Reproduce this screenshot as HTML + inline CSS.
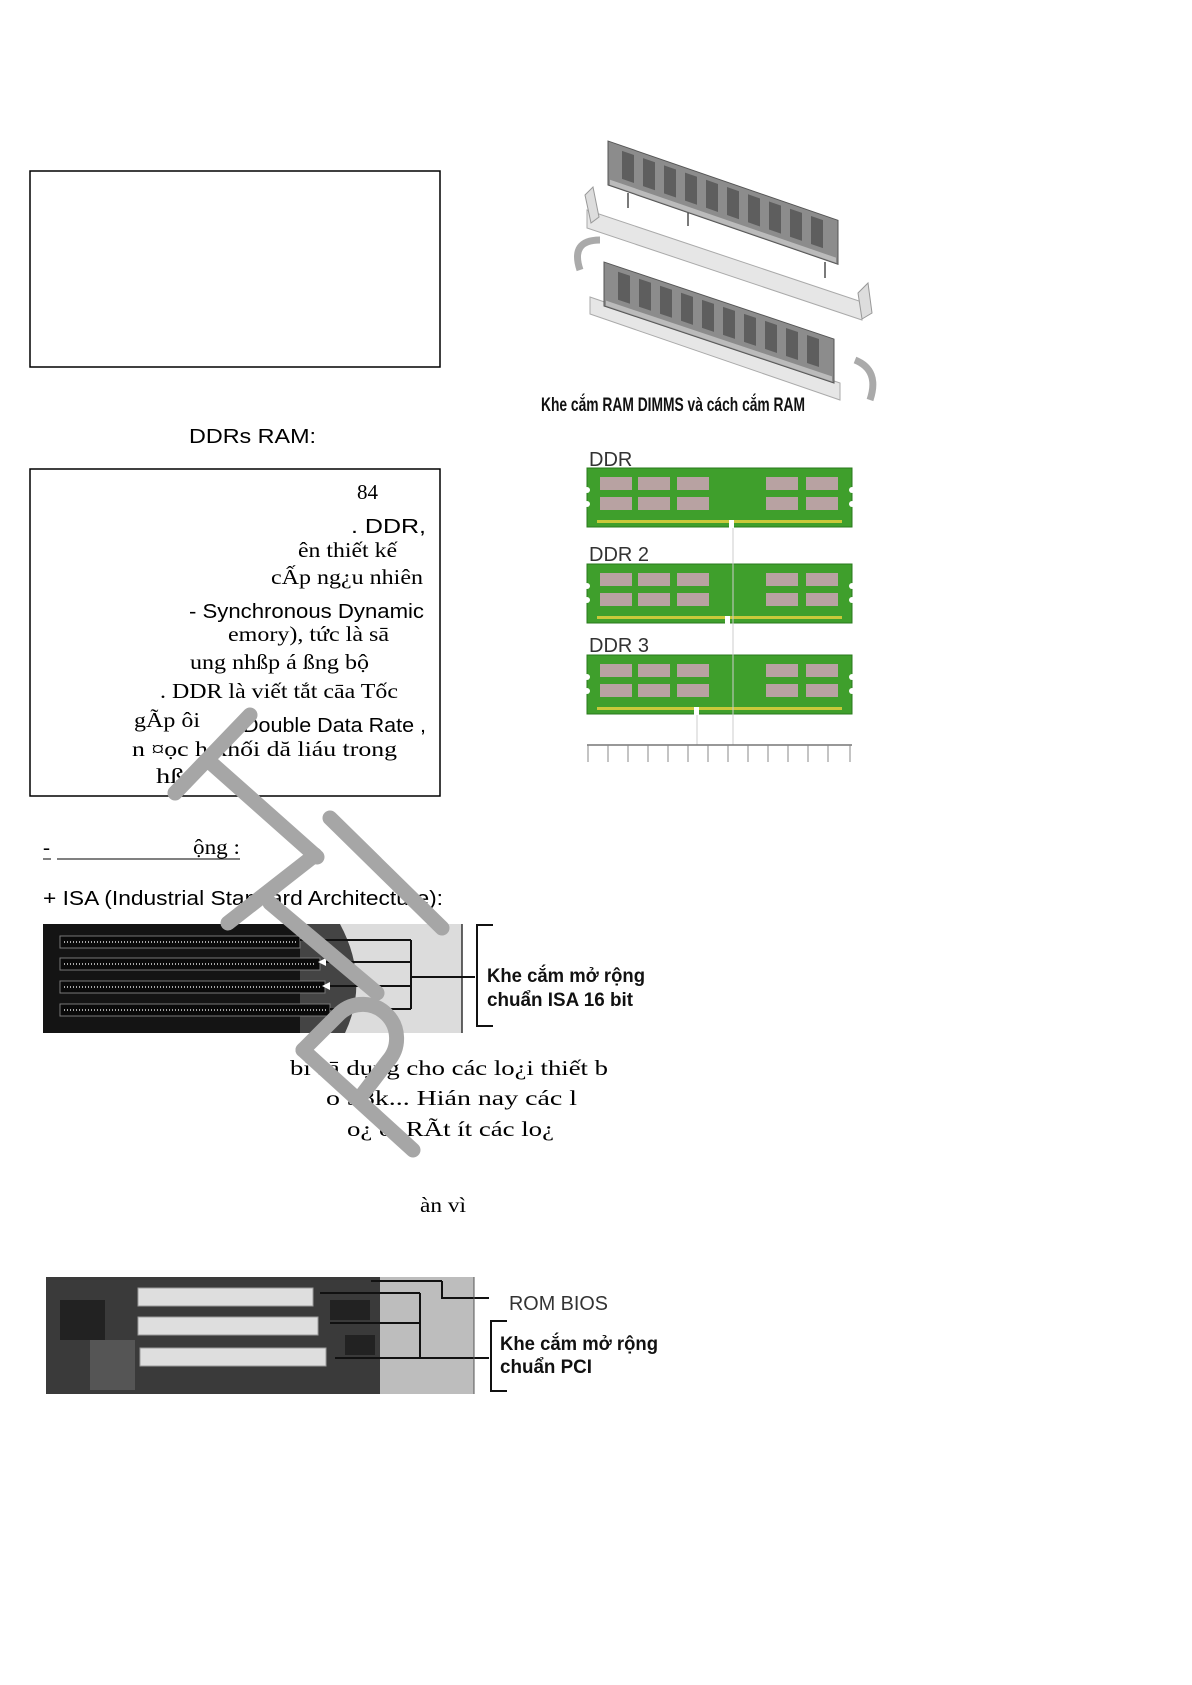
<!DOCTYPE html>
<html><head><meta charset="utf-8"><style>
html,body{margin:0;padding:0;background:#fff}
svg{display:block}
.s{font-family:"Liberation Serif",serif;font-size:21px;fill:#000}
.a{font-family:"Liberation Sans",sans-serif;font-size:20px;fill:#000}
.b{font-family:"Liberation Sans",sans-serif;font-weight:bold;font-size:19px;fill:#111}
</style></head><body>
<svg width="1192" height="1685" viewBox="0 0 1192 1685" xmlns="http://www.w3.org/2000/svg">
<defs>
<g id="mod">
 <rect x="0" y="0" width="265" height="59" fill="#3f9f2c" stroke="#2a7a1c" stroke-width="1"/>
 <g fill="#b8a2a2">
  <rect x="13" y="9" width="32" height="13"/><rect x="51" y="9" width="32" height="13"/><rect x="90" y="9" width="32" height="13"/>
  <rect x="179" y="9" width="32" height="13"/><rect x="219" y="9" width="32" height="13"/>
  <rect x="13" y="29" width="32" height="13"/><rect x="51" y="29" width="32" height="13"/><rect x="90" y="29" width="32" height="13"/>
  <rect x="179" y="29" width="32" height="13"/><rect x="219" y="29" width="32" height="13"/>
 </g>
 <rect x="10" y="52" width="245" height="3" fill="#c9c93a"/>
 <circle cx="0" cy="22" r="3" fill="#fff"/><circle cx="0" cy="36" r="3" fill="#fff"/>
 <circle cx="265" cy="22" r="3" fill="#fff"/><circle cx="265" cy="36" r="3" fill="#fff"/>
</g>
<g id="stick">
 <rect x="0" y="0" width="230" height="44" fill="#8c8c8c" stroke="#555" stroke-width="1"/>
 <g fill="#5e5e5e">
  <rect x="14" y="5" width="12" height="28"/><rect x="35" y="5" width="12" height="28"/><rect x="56" y="5" width="12" height="28"/>
  <rect x="77" y="5" width="12" height="28"/><rect x="98" y="5" width="12" height="28"/><rect x="119" y="5" width="12" height="28"/>
  <rect x="140" y="5" width="12" height="28"/><rect x="161" y="5" width="12" height="28"/><rect x="182" y="5" width="12" height="28"/><rect x="203" y="5" width="12" height="28"/>
 </g>
 <rect x="2" y="38" width="226" height="5" fill="#bbb"/>
</g>
</defs>

<!-- boxes -->
<rect x="30" y="171" width="410" height="196" fill="none" stroke="#000" stroke-width="1.5"/>
<text class="a" x="189" y="443" textLength="127" lengthAdjust="spacingAndGlyphs" font-size="21">DDRs RAM:</text>
<rect x="30" y="469" width="410" height="327" fill="none" stroke="#000" stroke-width="1.5"/>

<text class="s" x="357" y="499">84</text>
<text class="a" x="351" y="533" textLength="75" lengthAdjust="spacingAndGlyphs">. DDR,</text>
<text class="s" x="298" y="557" textLength="99" lengthAdjust="spacingAndGlyphs">ên thiết kế</text>
<text class="s" x="271" y="584" textLength="152" lengthAdjust="spacingAndGlyphs">cẤp ng¿u nhiên</text>
<text class="a" x="189" y="618" textLength="235" lengthAdjust="spacingAndGlyphs">- Synchronous Dynamic</text>
<text class="s" x="228" y="641" textLength="161" lengthAdjust="spacingAndGlyphs">emory), tức là sā</text>
<text class="s" x="190" y="669" textLength="179" lengthAdjust="spacingAndGlyphs">ung nhßp á ßng bộ</text>
<text class="s" x="160" y="698" textLength="238" lengthAdjust="spacingAndGlyphs">. DDR là viết tắt cāa Tốc</text>
<text class="s" x="134" y="727" textLength="66" lengthAdjust="spacingAndGlyphs">gÃp ôi</text>
<text class="a" x="243" y="732" textLength="183" lengthAdjust="spacingAndGlyphs">Double Data Rate ,</text>
<text class="s" x="132" y="756" textLength="265" lengthAdjust="spacingAndGlyphs">n ¤ọc h  khối dă liáu trong</text>
<text class="s" x="156" y="783" textLength="38" lengthAdjust="spacingAndGlyphs">hß¡</text>

<text class="s" x="43" y="854">-</text>
<line x1="43" y1="859" x2="51" y2="859" stroke="#000" stroke-width="1"/>
<line x1="57" y1="859" x2="240" y2="859" stroke="#000" stroke-width="1"/>
<text class="s" x="193" y="854" textLength="47" lengthAdjust="spacingAndGlyphs">ộng :</text>
<text class="a" x="43" y="905" textLength="400" lengthAdjust="spacingAndGlyphs">+ ISA (Industrial Standard Architecture):</text>

<!-- ISA photo -->
<rect x="43" y="924" width="419" height="109" fill="#dcdcdc"/>
<rect x="43" y="924" width="285" height="109" fill="#141414"/>
<path d="M300 924 L340 924 Q370 980 345 1033 L300 1033 Z" fill="#444"/>
<g fill="#0a0a0a" stroke="#777" stroke-width="1">
 <rect x="60" y="936" width="240" height="12"/><rect x="60" y="958" width="260" height="12"/><rect x="60" y="981" width="265" height="12"/><rect x="60" y="1004" width="270" height="12"/>
</g>
<g stroke="#aaa" stroke-width="2" stroke-dasharray="1 2">
 <line x1="64" y1="942" x2="296" y2="942"/><line x1="64" y1="964" x2="316" y2="964"/><line x1="64" y1="987" x2="321" y2="987"/><line x1="64" y1="1010" x2="326" y2="1010"/>
</g>
<line x1="462" y1="924" x2="462" y2="1033" stroke="#333" stroke-width="1.5"/>
<g stroke="#111" stroke-width="2" fill="none">
 <line x1="300" y1="940" x2="411" y2="940"/><line x1="320" y1="962" x2="411" y2="962"/><line x1="325" y1="986" x2="411" y2="986"/><line x1="330" y1="1009" x2="411" y2="1009"/>
 <line x1="411" y1="940" x2="411" y2="1009"/><line x1="411" y1="977" x2="475" y2="977"/>
 <path d="M493 925 H477 V1026 H493"/>
</g>
<g fill="#fff"><path d="M318 962 l8 -4 v8z"/><path d="M322 986 l8 -4 v8z"/></g>
<text class="b" x="487" y="982" textLength="158" lengthAdjust="spacingAndGlyphs">Khe cắm mở rộng</text>
<text class="b" x="487" y="1006" textLength="146" lengthAdjust="spacingAndGlyphs">chuẩn ISA 16 bit</text>

<text class="s" x="290" y="1075" textLength="318" lengthAdjust="spacingAndGlyphs">bi  sā dụng cho các lo¿i thiết b</text>
<text class="s" x="326" y="1105" textLength="251" lengthAdjust="spacingAndGlyphs">o  38k... Hián nay các l</text>
<text class="s" x="347" y="1136" textLength="207" lengthAdjust="spacingAndGlyphs">o¿  ỏ. RÃt ít các lo¿</text>
<text class="s" x="420" y="1212" textLength="46" lengthAdjust="spacingAndGlyphs">àn vì</text>

<!-- PCI photo -->
<rect x="46" y="1277" width="428" height="117" fill="#3a3a3a"/>
<rect x="380" y="1277" width="94" height="117" fill="#bdbdbd"/>
<rect x="60" y="1300" width="45" height="40" fill="#222"/>
<rect x="90" y="1340" width="45" height="50" fill="#555"/>
<g fill="#dedede" stroke="#999" stroke-width="1">
 <rect x="138" y="1288" width="175" height="18"/><rect x="138" y="1317" width="180" height="18"/><rect x="140" y="1348" width="186" height="18"/>
</g>
<rect x="330" y="1300" width="40" height="20" fill="#222"/><rect x="345" y="1335" width="30" height="20" fill="#222"/>
<g stroke="#111" stroke-width="2" fill="none">
 <line x1="371" y1="1281" x2="442" y2="1281"/><path d="M442 1281 V1298 H489"/>
 <line x1="320" y1="1293" x2="420" y2="1293"/><line x1="330" y1="1323" x2="420" y2="1323"/><line x1="335" y1="1358" x2="420" y2="1358"/>
 <line x1="420" y1="1293" x2="420" y2="1358"/><line x1="420" y1="1358" x2="489" y2="1358"/>
 <path d="M507 1321 H491 V1391 H507"/>
</g>
<line x1="474" y1="1277" x2="474" y2="1394" stroke="#555" stroke-width="1"/>
<text class="a" x="509" y="1310" textLength="99" lengthAdjust="spacingAndGlyphs" fill="#333" style="fill:#333">ROM BIOS</text>
<text class="b" x="500" y="1350" textLength="158" lengthAdjust="spacingAndGlyphs">Khe cắm mở rộng</text>
<text class="b" x="500" y="1373" textLength="92" lengthAdjust="spacingAndGlyphs">chuẩn PCI</text>

<!-- DIMM picture -->
<path d="M587 210 L862 302 L862 320 L587 228 Z" fill="#e6e6e6" stroke="#aaa" stroke-width="1"/>
<path d="M585 195 l8 -8 l6 30 l-8 6z M858 293 l10 -10 l4 30 l-10 6z" fill="#ddd" stroke="#999"/>
<g transform="matrix(1,0.345,0,1,608,141)"><use href="#stick"/></g>
<g stroke="#222" stroke-width="1.2"><line x1="628" y1="193" x2="628" y2="208"/><line x1="688" y1="213" x2="688" y2="226"/><line x1="825" y1="262" x2="825" y2="278"/></g>
<path d="M590 297 L840 383 L840 400 L590 314 Z" fill="#e6e6e6" stroke="#aaa" stroke-width="1"/>
<g transform="matrix(1,0.335,0,1,604,262)"><use href="#stick"/></g>
<path d="M580 270 q-10 -30 20 -30" fill="none" stroke="#aaa" stroke-width="7"/>
<path d="M855 360 q25 10 15 40" fill="none" stroke="#aaa" stroke-width="7"/>
<text class="b" x="541" y="411" font-size="14" textLength="264" lengthAdjust="spacingAndGlyphs">Khe cắm RAM DIMMS và cách cắm RAM</text>

<!-- DDR diagram -->
<text class="a" x="589" y="466" font-size="17" fill="#333" style="fill:#333">DDR</text>
<use href="#mod" x="587" y="468"/>
<rect x="729" y="520" width="5" height="8" fill="#fff"/>
<text class="a" x="589" y="561" font-size="17" style="fill:#333">DDR 2</text>
<use href="#mod" x="587" y="564"/>
<rect x="725" y="616" width="5" height="8" fill="#fff"/>
<text class="a" x="589" y="652" font-size="17" style="fill:#333">DDR 3</text>
<use href="#mod" x="587" y="655"/>
<rect x="694" y="707" width="5" height="8" fill="#fff"/>
<g stroke="#ccc" stroke-width="1"><line x1="733" y1="528" x2="733" y2="745"/><line x1="697" y1="715" x2="697" y2="745"/></g>
<line x1="587" y1="745" x2="852" y2="745" stroke="#777" stroke-width="1.5"/>
<g stroke="#888" stroke-width="1">
 <line x1="588" y1="745" x2="588" y2="762"/><line x1="608" y1="745" x2="608" y2="762"/><line x1="628" y1="745" x2="628" y2="762"/><line x1="648" y1="745" x2="648" y2="762"/><line x1="668" y1="745" x2="668" y2="762"/><line x1="688" y1="745" x2="688" y2="762"/><line x1="708" y1="745" x2="708" y2="762"/><line x1="728" y1="745" x2="728" y2="762"/><line x1="748" y1="745" x2="748" y2="762"/><line x1="768" y1="745" x2="768" y2="762"/><line x1="788" y1="745" x2="788" y2="762"/><line x1="808" y1="745" x2="808" y2="762"/><line x1="828" y1="745" x2="828" y2="762"/><line x1="850" y1="745" x2="850" y2="762"/>
</g>

<!-- watermark -->
<g stroke="#a6a6a6" stroke-width="15" stroke-linecap="round" fill="none">
 <line x1="175" y1="793" x2="250" y2="715"/>
 <line x1="210" y1="762" x2="317" y2="857"/>
 <line x1="228" y1="923" x2="315" y2="855"/>
 <line x1="270" y1="903" x2="377" y2="993"/>
 <line x1="330" y1="818" x2="442" y2="928"/>
 <line x1="303" y1="1050" x2="413" y2="1150"/>
 <path d="M303 1050 L340 1013 A34 34 0 0 1 388 1061 L362 1095"/>
</g>
</svg>
</body></html>
